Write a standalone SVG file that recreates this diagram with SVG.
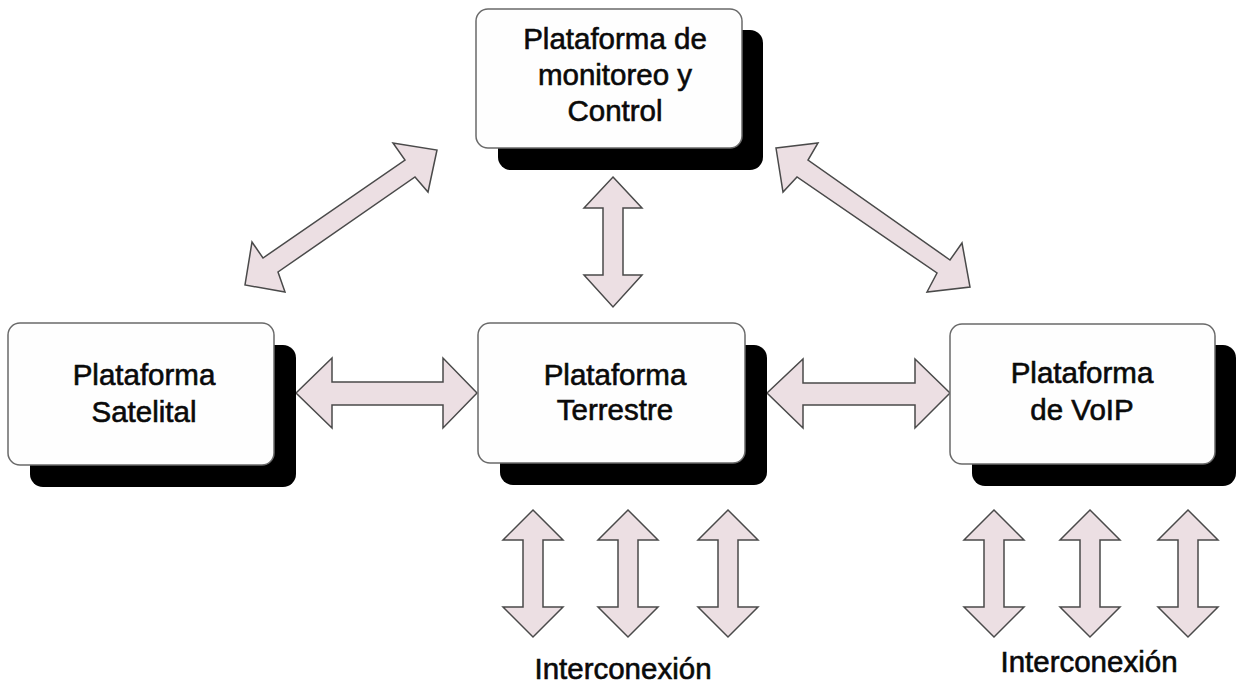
<svg xmlns="http://www.w3.org/2000/svg" width="1236" height="684" viewBox="0 0 1236 684">
<style>
.sh{fill:#000;}
.bx{fill:#fefefe;stroke:#6a6a6a;stroke-width:1.5;}
.t{font-family:"Liberation Sans",Arial,sans-serif;font-size:29.5px;fill:#0a0a0a;stroke:#0a0a0a;stroke-width:0.6;text-anchor:middle;}
.ar{fill:#ecdfe3;stroke:#4a4a4a;stroke-width:1.5;stroke-linejoin:miter;}
</style>
<defs>
<path id="va" d="M0,0 L30,30 L10,30 L10,97 L30,97 L0,127 L-30,97 L-10,97 L-10,30 L-30,30 Z"/>
</defs>
<rect width="1236" height="684" fill="#ffffff"/>
<g id="connectors">
<polygon class="ar" points="437,150 428,192 415,177 278,272 285,292 245,285 252,242 263,258 405,160 393,143"/>
<polygon class="ar" points="776,148 818,143 808,160 950,260 962,243 970,287 927,292 937,273 797,177 783,192"/>
<polygon class="ar" points="613,177 642,208 623,208 623,275 642,275 613,307 584,275 603,275 603,208 584,208"/>
<polygon class="ar" points="296,393 332,358 332,382 443,382 443,358 477,393 443,428 443,405 332,405 332,428"/>
<polygon class="ar" points="767,393 803,359 803,383 915,383 915,359 950,393 915,428 915,405 803,405 803,428"/>
<use href="#va" class="ar" transform="translate(533,510)"/>
<use href="#va" class="ar" transform="translate(628,510)"/>
<use href="#va" class="ar" transform="translate(728,510)"/>
<use href="#va" class="ar" transform="translate(994,510)"/>
<use href="#va" class="ar" transform="translate(1090,510)"/>
<use href="#va" class="ar" transform="translate(1188,510)"/>
</g>
<g id="node-monitoreo">
<rect class="sh" x="498" y="30" width="265" height="140" rx="13"/>
<rect class="bx" x="476" y="9" width="266" height="139" rx="12"/>
<text class="t" x="615" y="49">Plataforma de</text>
<text class="t" x="615" y="85">monitoreo y</text>
<text class="t" x="615" y="121">Control</text>
</g>
<g id="node-satelital">
<rect class="sh" x="30" y="345" width="266" height="142" rx="13"/>
<rect class="bx" x="8" y="323" width="266" height="142" rx="12"/>
<text class="t" x="144" y="385">Plataforma</text>
<text class="t" x="144" y="422">Satelital</text>
</g>
<g id="node-terrestre">
<rect class="sh" x="500" y="345" width="267" height="140" rx="13"/>
<rect class="bx" x="478" y="323" width="267" height="140" rx="12"/>
<text class="t" x="615" y="385">Plataforma</text>
<text class="t" x="615" y="420">Terrestre</text>
</g>
<g id="node-voip">
<rect class="sh" x="972" y="345" width="264" height="141" rx="13"/>
<rect class="bx" x="950" y="324" width="265" height="140" rx="12"/>
<text class="t" x="1082" y="383">Plataforma</text>
<text class="t" x="1082" y="420">de VoIP</text>
</g>
<g id="labels">
<text class="t" x="623" y="679">Interconexión</text>
<text class="t" x="1089" y="672">Interconexión</text>
</g>
</svg>
